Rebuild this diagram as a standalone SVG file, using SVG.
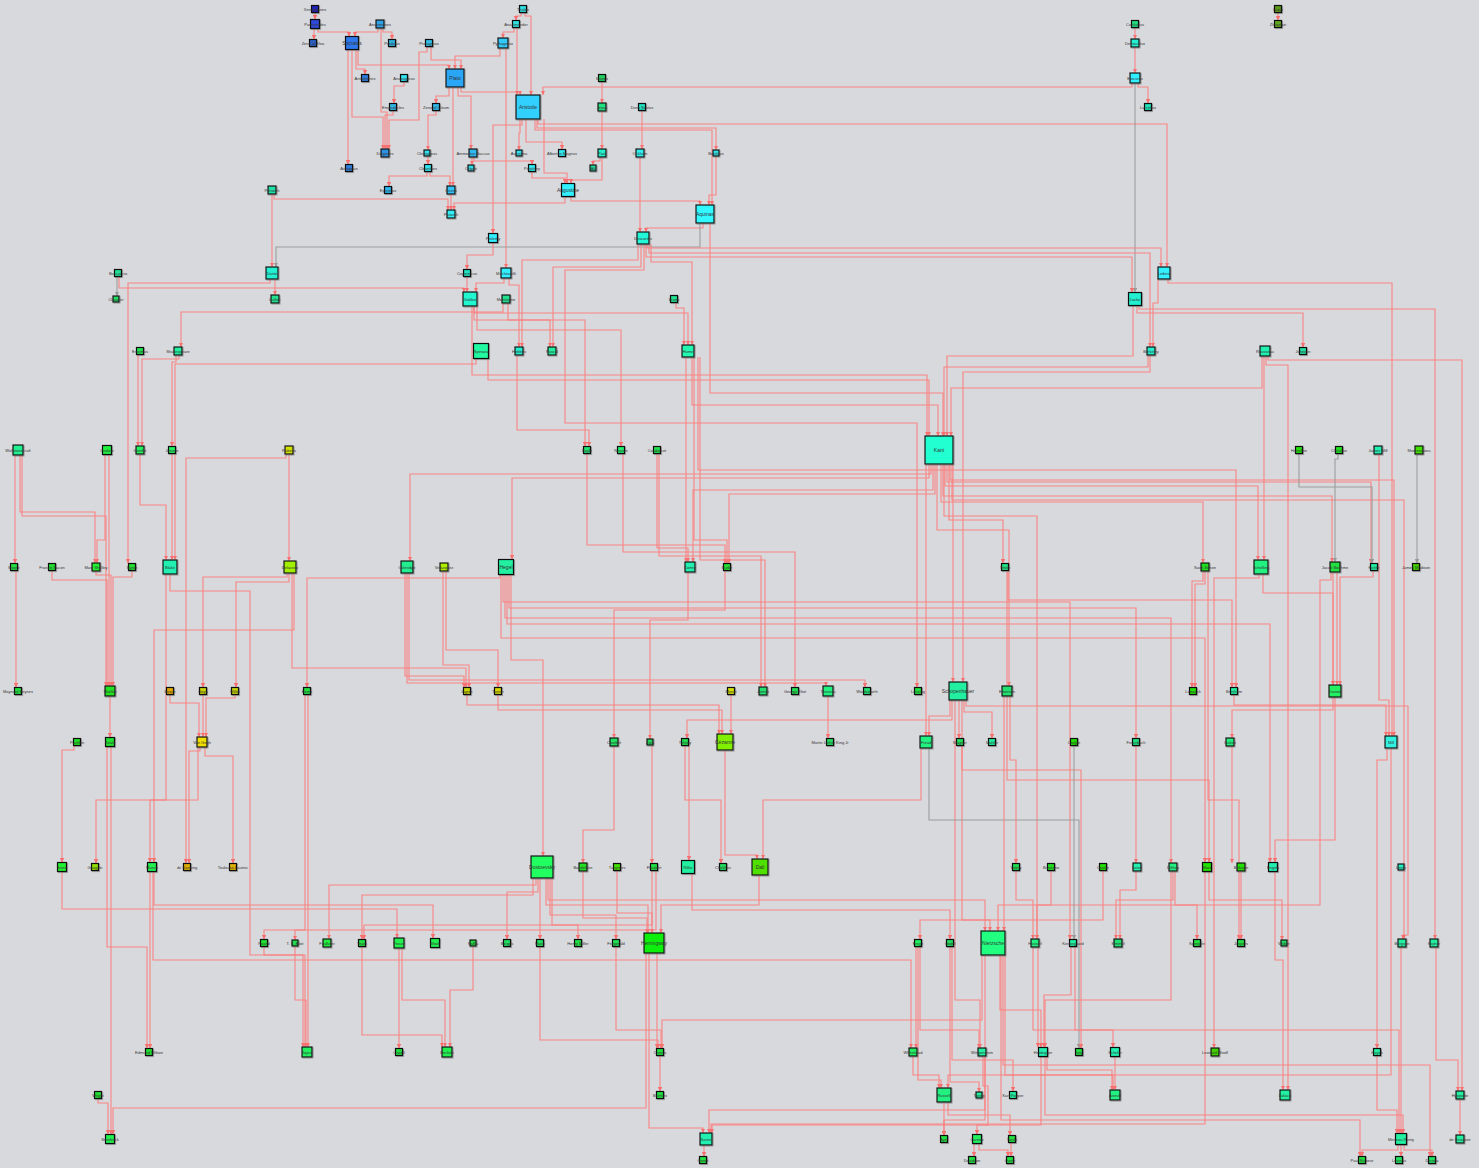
<svg xmlns="http://www.w3.org/2000/svg" width="1479" height="1168" viewBox="0 0 1479 1168">
<defs>
<filter id="sh" x="-30%" y="-30%" width="170%" height="170%"><feDropShadow dx="0.8" dy="0.8" stdDeviation="0.7" flood-color="#777" flood-opacity="0.8"/></filter>
<marker id="a" viewBox="0 0 6 6" refX="6" refY="3" markerWidth="4" markerHeight="4" orient="auto"><path d="M0,0L6,3L0,6z" fill="#f87070"/></marker>
<marker id="ag" viewBox="0 0 6 6" refX="6" refY="3" markerWidth="4" markerHeight="4" orient="auto"><path d="M0,0L6,3L0,6z" fill="#999"/></marker>
<style>
.ed path{fill:none;stroke:#fb7f7f;stroke-width:1.1;stroke-opacity:.95;marker-end:url(#a)}
.ed path.g{stroke:#9a9a9a;marker-end:url(#ag)}
.nd rect{stroke:#111;stroke-width:1.2;filter:url(#sh)}
.nd text{font-family:"Liberation Sans",Arial,sans-serif;font-size:4px;fill:#333;text-anchor:middle;dominant-baseline:central}
.nd.b text{font-size:5px}
</style>
</defs>
<rect width="1479" height="1168" fill="#d8d9dc"/>
<g id="connectors" class="ed">
<path d="M315,12.5V19.5"/><path d="M314,28.5V39.5"/><path d="M318,28.5V32H349V36.5"/><path d="M378,28V32H355V36.5"/><path d="M383,28V32H392V39.5"/><path d="M381,28V112H387V149"/><path d="M356,49.5V69H365V74.5"/><path d="M352,49.5V117H383V149"/><path d="M348,49.5V164.5"/><path d="M358,49.5V65H449V69"/><path d="M431,46.5V60H461V69"/><path d="M427,46.5V52H419V120H389V149"/><path d="M404,81.5V86H394V103.5"/><path d="M393,110.5V115H385V149"/><path d="M449,87V96H436V103.5"/><path d="M436,110.5V115H428V150"/><path d="M428,156V164.5"/><path d="M427,171.5V176H389V186.5"/><path d="M430,171.5V176H450V186"/><path d="M453,87V186"/><path d="M458,87V96H471V149"/><path d="M461,87V92H520V95"/><path d="M500,48V56H455V69"/><path d="M506,48V268"/><path d="M514,27.5V32H503V38"/><path d="M517,27.5V95"/><path d="M521,12.5V16H516V20.5"/><path d="M525,12.5V16H531V95"/><path d="M520,119V133H519V150"/><path d="M526,119V142H562V149.5"/><path d="M474,157V161H532V164.5"/><path d="M472,157V165"/><path d="M532,171.5V178H565V183.5"/><path d="M544,119V173H567V183.5"/><path d="M602,157V180H571V183.5"/><path d="M602,111V149"/><path d="M602,81.5V103"/><path d="M600,157V161H593V165"/><path d="M642,110.5V149"/><path d="M535,119V130H712V205"/><path d="M537,119V128H716V150"/><path d="M716,156V195H709V205"/><path d="M571,196.5V201H700V205"/><path d="M703,223V228H646V232"/><path d="M640,157V232"/><path d="M522,119V125H493V233.5"/><path d="M565,196.5V203H454V210"/><path d="M451,194V210"/><path d="M274,194V199H448V210"/><path d="M1132,83V87H543V95"/><path d="M538,119V124H1167V267"/><path d="M1135,27.5V39"/><path d="M1135,47V73"/><path d="M1138,83V87H1148V103.5"/><path class="g" d="M1135,83V292.5"/><path d="M1278,12.5V20.5"/>
<path d="M275,279V295"/><path d="M272,194V267"/><path class="g" d="M700,223V247H276V267"/><path d="M270,279V283H128V563.5"/><path class="g" d="M117,276.5V296"/><path d="M119,276.5V288H464V292"/><path d="M467,276.5V292"/><path d="M504,278V283H476V292"/><path d="M509,278V285H519V347"/><path d="M493,242.5V255H467V269.5"/><path d="M638,244V260H522V347"/><path d="M641,244V267H553V347"/><path d="M644,244V270H565V423H917V687.5"/><path d="M647,244V248H1161V267"/><path d="M649,244V253H1150V347"/><path d="M646,244V257H1132V292.5"/><path d="M710,223V393H943V436"/><path d="M676,302.5V308H684V345"/><path d="M474,306V313H688V345"/><path d="M651,244V262H692V345"/><path d="M692,357V405H938V436"/><path d="M488,358.5V380H929V436"/><path d="M1133,305.5V356H947V436"/><path d="M1158,279V303H1153V347"/><path d="M1148,355V367H944V436"/><path d="M1150,355V372H963V682"/><path d="M1262,356V388H951V436"/><path d="M1137,305.5V313H1303V347.5"/><path d="M1139,305.5V309H1435V939"/><path d="M1268,356V360H1462V1091"/><path d="M1264,356V560"/><path d="M1266,356V365H1288V1090"/><path d="M1168,279V283H1392V736"/>
<path d="M476,358.5V364H175V560"/><path d="M176,355V362H172V446.5"/><path d="M172,453.5V560"/><path d="M138,354.5V446"/><path d="M179,355V359H142V446"/><path d="M140,454V505H166V560"/><path d="M15,455V563.5"/><path d="M20,455V512H95V563"/><path d="M22,455V516H106V686"/><path d="M109,454.5V686"/><path d="M105,454.5V540H97V563"/><path d="M16,570.5V687.5"/><path d="M52,570.5V580H107V686"/><path d="M96,571V575H111V686"/><path d="M132,570.5V577H113V686"/><path d="M110,696V737.5"/><path d="M111,746.5V1134.5"/><path d="M107,746.5V947H147V1048.5"/><path d="M98,1098.5V1103H108V1134.5"/><path d="M646,953V1108H113V1134.5"/><path d="M170,574V591H250V955H305V1047"/><path d="M289,454V561"/><path d="M286,454V458H186V863.5"/><path d="M292,573V668H466V687.5"/><path d="M500,574.5V578H307V687.5"/><path d="M287,573V577H203V687.5"/><path d="M289,573V582H236V687.5"/><path d="M203,694.5V737"/><path d="M235,694.5V698H206V737"/><path d="M170,694.5V703H199V737"/><path d="M200,747V751H189V863.5"/><path d="M205,747V756H233V863.5"/><path d="M74,745.5V750H62V862.5"/><path d="M62,871.5V909H397V938"/><path d="M150,871.5V1048.5"/><path d="M154,871.5V905H433V938.5"/><path d="M153,871.5V960H911V1048"/><path d="M166,574V800H150V862.5"/><path d="M294,573V630H154V862.5"/><path d="M198,747V800H96V863.5"/><path d="M443,571V665H469V687.5"/><path d="M446,571V650H498V687.5"/><path d="M405,573V676H464V687.5"/><path d="M409,573V680H865V687.5"/><path d="M407,573V683H826V686"/>
<path d="M929,464V478H512V559.5"/><path d="M953,464V682"/><path d="M945,464V486H1258V560"/><path d="M947,464V482H1371V563.5"/><path d="M931,464V474H410V561"/><path d="M949,464V520H1003V563.5"/><path d="M943,464V496H1332V562"/><path d="M941,464V502H1203V563"/><path d="M933,464V490H693V562"/><path d="M935,464V494H729V563.5"/><path d="M937,464V530H1009V686"/><path d="M926,464V736"/><path d="M950,464V480H1394V736"/><path d="M944,464V516H1037V939"/><path d="M952,464V500H1404V939"/>
<path d="M501,574.5V638H1205V862.5"/><path d="M503,574.5V602H1070V939.5"/><path d="M505,574.5V618H1171V863"/><path d="M507,574.5V624H1270V862.5"/><path d="M511,574.5V660H543V856"/><path d="M509,574.5V608H1136V738.5"/>
<path d="M962,700V920H990V931"/><path d="M955,700V1000H980V1048"/><path d="M964,700V712H992V738.5"/><path d="M959,700V738.5"/><path d="M952,700V720H687V738.5"/><path d="M950,700V716H929V736"/><path d="M966,700V706H1408V935H1403V939"/>
<path d="M921,748V800H763V859"/><path class="g" d="M929,748V820H1079V1048.5"/><path d="M962,745.5V770H1081V1048.5"/>
<path d="M1379,454V700H1389V736"/><path d="M1234,694.5V705H1386V736"/><path d="M1387,748V760H1377V1048.5"/><path d="M1391,748V1075H948V1088"/>
<path d="M1000,955V1010H1041V1047.5"/><path d="M985,955V1110H709V1133"/><path d="M982,955V1020H662V1048.5"/><path d="M1003,955V1065H1430V1156.5"/><path d="M1005,955V1075H1113V1090"/><path d="M1001,955V1120H1360V1156.5"/><path d="M1004,696V931"/><path d="M548,878V900H985V931"/><path d="M1331,572V580H1320V905H998V931"/>
<path d="M546,878V905H648V933"/><path d="M540,878V939.5"/><path d="M550,878V915H616V939.5"/><path d="M536,878V885H329V939"/><path d="M538,878V892H507V939.5"/><path d="M552,878V925H578V939.5"/><path d="M533,878V895H362V939.5"/>
<path d="M617,870.5V913H652V933"/><path d="M759,875V905H661V933"/><path d="M583,871V918H647V933"/><path d="M649,953V1128H703V1133"/><path d="M657,953V1048.5"/><path d="M660,1055.5V1091.5"/><path d="M692,873.5V910H950V939.5"/>
<path d="M731,694.5V734"/><path d="M467,694.5V705H719V734"/><path d="M498,694.5V710H722V734"/><path d="M725,750V855H757V859"/>
<path d="M1007,570.5V780H1209V862.5"/><path d="M1008,570.5V600H1232V687.5"/><path d="M1203,571V581H1192V687.5"/><path d="M1205,571V584H1195V687.5"/><path d="M1208,571V800H1239V939.5"/><path d="M1263,574V593H1333V685"/><path d="M1259,574V578H1214V1048"/><path d="M1333,572V685"/><path d="M1337,572V685"/><path d="M1373,570.5V577H1340V685"/><path class="g" d="M1417,454V563.5"/><path class="g" d="M1338,453.5V459H1335V562"/><path class="g" d="M1299,453.5V487H1372V563.5"/><path d="M1333,697V710H1232V738"/><path d="M1335,697V840H1275V862.5"/><path d="M1136,745.5V863"/><path d="M1136,871V890H1120V939"/><path d="M1173,871V900H1116V939"/><path d="M1171,871V1000H1045V1047.5"/><path d="M1175,871V905H1197V939.5"/><path d="M1051,870.5V905H1037V939"/><path d="M1016,870.5V900H1033V939"/><path d="M1038,947V1047.5"/><path d="M1033,947V1030H1399V1133.5"/><path d="M1103,870.5V920H920V939.5"/><path d="M918,946.5V1080H941V1088"/><path d="M920,946.5V1030H979V1048"/><path d="M916,946.5V1048"/><path d="M950,946.5V1082H979V1092"/><path d="M913,1056V1075H939V1088"/><path d="M985,1056V1120H944V1135.5"/><path d="M983,1056V1086H988V1125H977V1134.5"/><path d="M944,1102V1135.5"/><path d="M948,1102V1115H1010V1135.5"/><path d="M979,1143.5V1150H1008V1156.5"/><path d="M974,1143.5V1156.5"/><path d="M1011,1142.5V1156.5"/><path d="M1047,1056.5V1070H1112V1090"/><path d="M1115,1056.5V1090"/><path d="M1041,1056.5V1125H712V1133"/><path d="M1045,1056.5V1115H1403V1133.5"/><path d="M1071,946.5V995H1044V1047.5"/><path d="M1075,946.5V1030H1113V1047.5"/><path d="M1398,1144.5V1150H1362V1156.5"/><path d="M1401,1144.5V1156.5"/><path d="M1404,1144.5V1150H1432V1156.5"/><path d="M1460,1099V1135"/><path d="M704,1145V1156.5"/><path d="M1401,947V1133.5"/><path d="M1436,947V1060H1458V1091"/><path d="M1377,1055.5V1110H1397V1133.5"/><path d="M1241,871V939.5"/><path d="M1209,871.5V900H1282V940"/><path d="M1205,871.5V1124H711V1133"/><path d="M1275,871.5V960H1283V1090"/><path d="M952,946.5V1060H1013V1091.5"/><path class="g" d="M1074,745.5V939.5"/><path d="M1232,746V863"/><path d="M1010,696V760H1016V863.5"/>
<path d="M305,694.5V930H264V939.5"/><path d="M308,694.5V1047"/><path d="M264,946.5V955H303V1047"/><path d="M295,946V1000H306V1047"/><path d="M656,870.5V930H295V940"/><path d="M652,870.5V925H364V939.5"/><path d="M399,948V1048.5"/><path d="M402,948V1000H445V1047"/><path d="M362,946.5V1035H442V1047"/><path d="M473,946V990H450V1047"/><path d="M540,946.5V1040H658V1048.5"/><path d="M616,946.5V1030H661V1048.5"/>
<path d="M474,306V320H585V446.5"/><path d="M477,306V330H621V446.5"/><path d="M472,306V375H927V436"/><path d="M503,303V312H181V347"/><path d="M508,303V320H550V347"/><path d="M517,355V430H589V446.5"/><path d="M686,357V562"/><path d="M694,357V540H727V563.5"/><path d="M698,357V470H1236V687.5"/><path d="M587,453.5V545H725V563.5"/><path d="M657,453.5V548H688V562"/><path d="M659,453.5V556H761V687"/><path d="M700,357V560H765V687"/><path d="M623,453.5V552H795V687.5"/><path d="M828,696V738.5"/><path d="M688,572V620H650V739"/><path d="M725,570.5V610H614V738"/><path d="M614,746V830H583V863"/><path d="M652,745V863.5"/><path d="M685,745.5V800H721V863.5"/><path d="M689,745.5V860.5"/>
</g>
<g id="nodes">
<g id="n-xenophanes" class="nd"><rect x="311.5" y="5.5" width="7" height="7" fill="#2323b8"/><text x="315" y="9">Xenophanes</text></g>
<g id="n-parmenides" class="nd"><rect x="310.5" y="19.5" width="9" height="9" fill="#2d48d8"/><text x="315" y="24">Parmenides</text></g>
<g id="n-zeno" class="nd"><rect x="309.5" y="39.5" width="7" height="7" fill="#2a62c8"/><text x="313" y="43">Zeno of Elea</text></g>
<g id="n-socrates" class="nd b"><rect x="345.5" y="36.5" width="13" height="13" fill="#2f78ee"/><text x="352" y="43">Socrates</text></g>
<g id="n-anaximenes" class="nd"><rect x="376" y="20" width="8" height="8" fill="#30a2e6"/><text x="380" y="24">Anaximenes</text></g>
<g id="n-prodicus" class="nd"><rect x="388.5" y="39.5" width="7" height="7" fill="#30b4e0"/><text x="392" y="43">Prodicus</text></g>
<g id="n-protagoras" class="nd"><rect x="425.5" y="39.5" width="7" height="7" fill="#34bfe8"/><text x="429" y="43">Protagoras</text></g>
<g id="n-antisthenes" class="nd"><rect x="361.5" y="74.5" width="7" height="7" fill="#2f7ee0"/><text x="365" y="78">Antisthenes</text></g>
<g id="n-anaxagoras" class="nd"><rect x="400.5" y="74.5" width="7" height="7" fill="#30e0ee"/><text x="404" y="78">Anaxagoras</text></g>
<g id="n-plato" class="nd b"><rect x="446" y="69" width="18" height="18" fill="#2aa6f6"/><text x="455" y="78">Plato</text></g>
<g id="n-empedocles" class="nd"><rect x="389.5" y="103.5" width="7" height="7" fill="#30b8e8"/><text x="393" y="107">Empedocles</text></g>
<g id="n-zenocitium" class="nd"><rect x="432.5" y="103.5" width="7" height="7" fill="#30b8e8"/><text x="436" y="107">Zeno of Citium</text></g>
<g id="n-diogenes" class="nd"><rect x="381" y="149" width="8" height="8" fill="#2f90e0"/><text x="385" y="153">Diogenes</text></g>
<g id="n-chrysippus" class="nd"><rect x="424" y="150" width="6" height="6" fill="#30e0f0"/><text x="427" y="153">Chrysippus</text></g>
<g id="n-ammonius" class="nd"><rect x="469" y="149" width="8" height="8" fill="#30b8f0"/><text x="473" y="153">Ammonius Saccas</text></g>
<g id="n-aristippus" class="nd"><rect x="345.5" y="164.5" width="7" height="7" fill="#2f80e0"/><text x="349" y="168">Aristippus</text></g>
<g id="n-cleanthes" class="nd"><rect x="424.5" y="164.5" width="7" height="7" fill="#30e4f0"/><text x="428" y="168">Cleanthes</text></g>
<g id="n-origen" class="nd"><rect x="468" y="165" width="6" height="6" fill="#30d8e8"/><text x="471" y="168">Origen</text></g>
<g id="n-epictetus" class="nd"><rect x="384.5" y="186.5" width="7" height="7" fill="#30b8f0"/><text x="388" y="190">Epictetus</text></g>
<g id="n-cicero" class="nd"><rect x="447" y="186" width="8" height="8" fill="#30c4f8"/><text x="451" y="190">Cicero</text></g>
<g id="n-plutarch" class="nd"><rect x="447" y="210" width="8" height="8" fill="#30eef8"/><text x="451" y="214">Plutarch</text></g>
<g id="n-thales" class="nd"><rect x="519.5" y="5.5" width="7" height="7" fill="#30e0e0"/><text x="523" y="9">Thales</text></g>
<g id="n-anaximander" class="nd"><rect x="512.5" y="20.5" width="7" height="7" fill="#30e0e0"/><text x="516" y="24">Anaximander</text></g>
<g id="n-pythagoras" class="nd"><rect x="498" y="38" width="10" height="10" fill="#30c8f8"/><text x="503" y="43">Pythagoras</text></g>
<g id="n-aristotle" class="nd b"><rect x="516" y="95" width="24" height="24" fill="#30d0ff"/><text x="528" y="107">Aristotle</text></g>
<g id="n-avicenna" class="nd"><rect x="516" y="150" width="6" height="6" fill="#30e0f0"/><text x="519" y="153">Avicenna</text></g>
<g id="n-albertus" class="nd"><rect x="558.5" y="149.5" width="7" height="7" fill="#30e8f0"/><text x="562" y="153">Albertus Magnus</text></g>
<g id="n-porphyry" class="nd"><rect x="528.5" y="164.5" width="7" height="7" fill="#30e8f0"/><text x="532" y="168">Porphyry</text></g>
<g id="n-moses" class="nd"><rect x="598.5" y="74.5" width="7" height="7" fill="#20d060"/><text x="602" y="78">Moses</text></g>
<g id="n-jesus" class="nd"><rect x="598" y="103" width="8" height="8" fill="#20e080"/><text x="602" y="107">Jesus</text></g>
<g id="n-paul" class="nd"><rect x="598" y="149" width="8" height="8" fill="#20f0c8"/><text x="602" y="153">Paul</text></g>
<g id="n-ali" class="nd"><rect x="590" y="165" width="6" height="6" fill="#20e0a0"/><text x="593" y="168">Ali</text></g>
<g id="n-dunscotus" class="nd"><rect x="638.5" y="103.5" width="7" height="7" fill="#20e0c0"/><text x="642" y="107">Duns Scotus</text></g>
<g id="n-ockham" class="nd"><rect x="636" y="149" width="8" height="8" fill="#30f0f0"/><text x="640" y="153">Ockham</text></g>
<g id="n-boethius" class="nd"><rect x="713" y="150" width="6" height="6" fill="#30e8f0"/><text x="716" y="153">Boethius</text></g>
<g id="n-augustine" class="nd b"><rect x="561.5" y="183.5" width="13" height="13" fill="#30f0ff"/><text x="568" y="190">Augustine</text></g>
<g id="n-aquinas" class="nd b"><rect x="696" y="205" width="18" height="18" fill="#30f8ff"/><text x="705" y="214">Aquinas</text></g>
<g id="n-petrarch" class="nd"><rect x="268" y="186" width="8" height="8" fill="#20e0a8"/><text x="272" y="190">Petrarch</text></g>
<g id="n-descartes" class="nd"><rect x="637" y="232" width="12" height="12" fill="#20f8d8"/><text x="643" y="238">Descartes</text></g>
<g id="n-ptolemy" class="nd"><rect x="488.5" y="233.5" width="9" height="9" fill="#30f0ff"/><text x="493" y="238">Ptolemy</text></g>
<g id="n-confucius" class="nd"><rect x="1131.5" y="20.5" width="7" height="7" fill="#20e080"/><text x="1135" y="24">Confucius</text></g>
<g id="n-democritus" class="nd"><rect x="1131" y="39" width="8" height="8" fill="#20f0d0"/><text x="1135" y="43">Democritus</text></g>
<g id="n-epicurus" class="nd"><rect x="1130" y="73" width="10" height="10" fill="#30f0ff"/><text x="1135" y="78">Epicurus</text></g>
<g id="n-lucretius" class="nd"><rect x="1144.5" y="103.5" width="7" height="7" fill="#20e0b8"/><text x="1148" y="107">Lucretius</text></g>
<g id="n-laozi" class="nd"><rect x="1274.5" y="5.5" width="7" height="7" fill="#5a9a18"/><text x="1278" y="9">Laozi</text></g>
<g id="n-zhuangzi" class="nd"><rect x="1274.5" y="20.5" width="7" height="7" fill="#60a820"/><text x="1278" y="24">Zhuangzi</text></g>
<g id="n-boccaccio" class="nd"><rect x="114.5" y="269.5" width="7" height="7" fill="#20e098"/><text x="118" y="273">Boccaccio</text></g>
<g id="n-chaucer" class="nd"><rect x="113" y="296" width="6" height="6" fill="#20e060"/><text x="116" y="299">Chaucer</text></g>
<g id="n-dante" class="nd"><rect x="266" y="267" width="12" height="12" fill="#20f0d0"/><text x="272" y="273">Dante</text></g>
<g id="n-luther" class="nd"><rect x="271" y="295" width="8" height="8" fill="#20e090"/><text x="275" y="299">Luther</text></g>
<g id="n-copernicus" class="nd"><rect x="463.5" y="269.5" width="7" height="7" fill="#20e0c0"/><text x="467" y="273">Copernicus</text></g>
<g id="n-machiavelli" class="nd"><rect x="501" y="268" width="10" height="10" fill="#30f0ff"/><text x="506" y="273">Machiavelli</text></g>
<g id="n-galileo" class="nd"><rect x="463" y="292" width="14" height="14" fill="#20f8d0"/><text x="470" y="299">Galileo</text></g>
<g id="n-montaigne" class="nd"><rect x="502" y="295" width="8" height="8" fill="#20e090"/><text x="506" y="299">Montaigne</text></g>
<g id="n-bruno" class="nd"><rect x="670.5" y="295.5" width="7" height="7" fill="#20e090"/><text x="674" y="299">Bruno</text></g>
<g id="n-leibniz" class="nd"><rect x="1158" y="267" width="12" height="12" fill="#30f0ff"/><text x="1164" y="273">Leibniz</text></g>
<g id="n-locke" class="nd"><rect x="1128.5" y="292.5" width="13" height="13" fill="#20f0d0"/><text x="1135" y="299">Locke</text></g>
<g id="n-erasmus" class="nd"><rect x="136.5" y="347.5" width="7" height="7" fill="#20e050"/><text x="140" y="351">Erasmus</text></g>
<g id="n-shakespeare" class="nd"><rect x="174" y="347" width="8" height="8" fill="#20f0a0"/><text x="178" y="351">Shakespeare</text></g>
<g id="n-spinoza" class="nd"><rect x="473.5" y="343.5" width="15" height="15" fill="#20f8a0"/><text x="481" y="351">Spinoza</text></g>
<g id="n-hobbes" class="nd"><rect x="515" y="347" width="8" height="8" fill="#20f0d0"/><text x="519" y="351">Hobbes</text></g>
<g id="n-pascal" class="nd"><rect x="548" y="347" width="8" height="8" fill="#20f0a0"/><text x="552" y="351">Pascal</text></g>
<g id="n-hume" class="nd"><rect x="682" y="345" width="12" height="12" fill="#20f8b0"/><text x="688" y="351">Hume</text></g>
<g id="n-berkeley" class="nd"><rect x="1147" y="347" width="8" height="8" fill="#20f0d0"/><text x="1151" y="351">Berkeley</text></g>
<g id="n-rousseau" class="nd"><rect x="1260" y="346" width="10" height="10" fill="#20f0b0"/><text x="1265" y="351">Rousseau</text></g>
<g id="n-johnson" class="nd"><rect x="1299.5" y="347.5" width="7" height="7" fill="#20e0a0"/><text x="1303" y="351">Johnson</text></g>
<g id="n-wollstonecraft" class="nd"><rect x="13" y="445" width="10" height="10" fill="#20f090"/><text x="18" y="450">Wollstonecraft</text></g>
<g id="n-godwin" class="nd"><rect x="102.5" y="445.5" width="9" height="9" fill="#20f040"/><text x="107" y="450">Godwin</text></g>
<g id="n-goethe" class="nd"><rect x="136" y="446" width="8" height="8" fill="#20f060"/><text x="140" y="450">Goethe</text></g>
<g id="n-jonson" class="nd"><rect x="168.5" y="446.5" width="7" height="7" fill="#20f060"/><text x="172" y="450">Jonson</text></g>
<g id="n-rubens" class="nd"><rect x="285" y="446" width="8" height="8" fill="#d4e000"/><text x="289" y="450">Rubens</text></g>
<g id="n-bayle" class="nd"><rect x="583.5" y="446.5" width="7" height="7" fill="#20e070"/><text x="587" y="450">Bayle</text></g>
<g id="n-newton" class="nd"><rect x="617.5" y="446.5" width="7" height="7" fill="#20f070"/><text x="621" y="450">Newton</text></g>
<g id="n-condorcet" class="nd"><rect x="653.5" y="446.5" width="7" height="7" fill="#20e050"/><text x="657" y="450">Condorcet</text></g>
<g id="n-kant" class="nd b"><rect x="925" y="436" width="28" height="28" fill="#20ffd0"/><text x="939" y="450">Kant</text></g>
<g id="n-hamilton" class="nd"><rect x="1295.5" y="446.5" width="7" height="7" fill="#20e010"/><text x="1299" y="450">Hamilton</text></g>
<g id="n-chopin" class="nd"><rect x="1335.5" y="446.5" width="7" height="7" fill="#20e020"/><text x="1339" y="450">Christian</text></g>
<g id="n-jamesmill" class="nd"><rect x="1374" y="446" width="8" height="8" fill="#20f0b0"/><text x="1378" y="450">James Mill</text></g>
<g id="n-montesquieu" class="nd"><rect x="1415" y="446" width="8" height="8" fill="#40e000"/><text x="1419" y="450">Montesquieu</text></g>
<g id="n-moore" class="nd"><rect x="10.5" y="563.5" width="7" height="7" fill="#20e040"/><text x="14" y="567">Moore</text></g>
<g id="n-fbacon" class="nd"><rect x="48.5" y="563.5" width="7" height="7" fill="#20e030"/><text x="52" y="567">Francis Bacon</text></g>
<g id="n-mshelley" class="nd"><rect x="92" y="563" width="8" height="8" fill="#20f030"/><text x="96" y="567">Mary Shelley</text></g>
<g id="n-byron" class="nd"><rect x="128.5" y="563.5" width="7" height="7" fill="#20e030"/><text x="132" y="567">Byron</text></g>
<g id="n-blake" class="nd"><rect x="163" y="560" width="14" height="14" fill="#20f0b0"/><text x="170" y="567">Blake</text></g>
<g id="n-delacroix" class="nd"><rect x="284" y="561" width="12" height="12" fill="#a0f000"/><text x="290" y="567">Delacroix</text></g>
<g id="n-coleridge" class="nd"><rect x="401" y="561" width="12" height="12" fill="#20f090"/><text x="407" y="567">Coleridge</text></g>
<g id="n-velazquez" class="nd"><rect x="440" y="563" width="8" height="8" fill="#b0f000"/><text x="444" y="567">Velázquez</text></g>
<g id="n-hegel" class="nd b"><rect x="498.5" y="559.5" width="15" height="15" fill="#20f0a0"/><text x="506" y="567">Hegel</text></g>
<g id="n-comte" class="nd"><rect x="685" y="562" width="10" height="10" fill="#20f0b0"/><text x="690" y="567">Comte</text></g>
<g id="n-burke" class="nd"><rect x="723.5" y="563.5" width="7" height="7" fill="#20e030"/><text x="727" y="567">Burke</text></g>
<g id="n-smith" class="nd"><rect x="1001.5" y="563.5" width="7" height="7" fill="#20e080"/><text x="1005" y="567">Smith</text></g>
<g id="n-saintsimon" class="nd"><rect x="1201" y="563" width="8" height="8" fill="#20e020"/><text x="1205" y="567">Saint-Simon</text></g>
<g id="n-schelling" class="nd"><rect x="1254" y="560" width="14" height="14" fill="#20f080"/><text x="1261" y="567">Schelling</text></g>
<g id="n-boehme" class="nd"><rect x="1330" y="562" width="10" height="10" fill="#20e040"/><text x="1335" y="567">Jacob Boehme</text></g>
<g id="n-fichte" class="nd"><rect x="1370.5" y="563.5" width="7" height="7" fill="#20f0a0"/><text x="1374" y="567">Fichte</text></g>
<g id="n-madison" class="nd"><rect x="1412.5" y="563.5" width="7" height="7" fill="#40d000"/><text x="1416" y="567">James Madison</text></g>
<g id="n-keynes" class="nd"><rect x="14.5" y="687.5" width="7" height="7" fill="#20e040"/><text x="18" y="691">Maynard Keynes</text></g>
<g id="n-shelley" class="nd"><rect x="105" y="686" width="10" height="10" fill="#20e020"/><text x="110" y="691">Shelley</text></g>
<g id="n-bosch" class="nd"><rect x="166.5" y="687.5" width="7" height="7" fill="#e0a800"/><text x="170" y="691">Bosch</text></g>
<g id="n-goya" class="nd"><rect x="199.5" y="687.5" width="7" height="7" fill="#c8d400"/><text x="203" y="691">Goya</text></g>
<g id="n-millet" class="nd"><rect x="231.5" y="687.5" width="7" height="7" fill="#c8d400"/><text x="235" y="691">Millet</text></g>
<g id="n-heine" class="nd"><rect x="303.5" y="687.5" width="7" height="7" fill="#20e040"/><text x="307" y="691">Heine</text></g>
<g id="n-ingres" class="nd"><rect x="463.5" y="687.5" width="7" height="7" fill="#c8d400"/><text x="467" y="691">Ingres</text></g>
<g id="n-turner" class="nd"><rect x="494.5" y="687.5" width="7" height="7" fill="#d4d400"/><text x="498" y="691">Turner</text></g>
<g id="n-monet" class="nd"><rect x="727.5" y="687.5" width="7" height="7" fill="#d4e000"/><text x="731" y="691">Monet</text></g>
<g id="n-james" class="nd"><rect x="759" y="687" width="8" height="8" fill="#20e070"/><text x="763" y="691">James</text></g>
<g id="n-eliot" class="nd"><rect x="791.5" y="687.5" width="7" height="7" fill="#20e050"/><text x="795" y="691">George Eliot</text></g>
<g id="n-thoreau" class="nd"><rect x="823" y="686" width="10" height="10" fill="#20f080"/><text x="828" y="691">Thoreau</text></g>
<g id="n-wordsworth" class="nd"><rect x="863.5" y="687.5" width="7" height="7" fill="#20e070"/><text x="867" y="691">Wordsworth</text></g>
<g id="n-lessing" class="nd"><rect x="914.5" y="687.5" width="7" height="7" fill="#20e040"/><text x="918" y="691">Lessing</text></g>
<g id="n-schopenhauer" class="nd b"><rect x="949" y="682" width="18" height="18" fill="#20f0a0"/><text x="958" y="691">Schopenhauer</text></g>
<g id="n-emerson" class="nd"><rect x="1002" y="686" width="10" height="10" fill="#20e070"/><text x="1007" y="691">Emerson</text></g>
<g id="n-lamarck" class="nd"><rect x="1189.5" y="687.5" width="7" height="7" fill="#20e000"/><text x="1193" y="691">Lamarck</text></g>
<g id="n-bentham" class="nd"><rect x="1230.5" y="687.5" width="7" height="7" fill="#20f0a0"/><text x="1234" y="691">Bentham</text></g>
<g id="n-darwin" class="nd"><rect x="1329" y="685" width="12" height="12" fill="#20f060"/><text x="1335" y="691">Darwin</text></g>
<g id="n-pushkin" class="nd"><rect x="73.5" y="738.5" width="7" height="7" fill="#20e020"/><text x="77" y="742">Pushkin</text></g>
<g id="n-keats" class="nd"><rect x="105.5" y="737.5" width="9" height="9" fill="#20e030"/><text x="110" y="742">Keats</text></g>
<g id="n-vangogh" class="nd"><rect x="197" y="737" width="10" height="10" fill="#f0e000"/><text x="202" y="742">Van Gogh</text></g>
<g id="n-courbet" class="nd"><rect x="610" y="738" width="8" height="8" fill="#20e060"/><text x="614" y="742">Courbet</text></g>
<g id="n-zola" class="nd"><rect x="647" y="739" width="6" height="6" fill="#20e060"/><text x="650" y="742">Zola</text></g>
<g id="n-tolstoy" class="nd"><rect x="681.5" y="738.5" width="7" height="7" fill="#20e050"/><text x="685" y="742">Tolstoy</text></g>
<g id="n-cezanne" class="nd b"><rect x="717" y="734" width="16" height="16" fill="#80f000"/><text x="725" y="742">Cézanne</text></g>
<g id="n-mlk" class="nd"><rect x="826.5" y="738.5" width="7" height="7" fill="#20e060"/><text x="830" y="742">Martin Luther King Jr</text></g>
<g id="n-freud" class="nd"><rect x="920" y="736" width="12" height="12" fill="#20f080"/><text x="926" y="742">Freud</text></g>
<g id="n-wagner" class="nd"><rect x="956.5" y="738.5" width="7" height="7" fill="#20e060"/><text x="960" y="742">Wagner</text></g>
<g id="n-mahler" class="nd"><rect x="988.5" y="738.5" width="7" height="7" fill="#20f0a0"/><text x="992" y="742">Mahler</text></g>
<g id="n-carlyle" class="nd"><rect x="1070.5" y="738.5" width="7" height="7" fill="#20e000"/><text x="1074" y="742">Carlyle</text></g>
<g id="n-feuerbach" class="nd"><rect x="1132.5" y="738.5" width="7" height="7" fill="#20e080"/><text x="1136" y="742">Feuerbach</text></g>
<g id="n-galton" class="nd"><rect x="1226" y="738" width="8" height="8" fill="#20f080"/><text x="1230" y="742">Galton</text></g>
<g id="n-mill" class="nd"><rect x="1385" y="736" width="12" height="12" fill="#30f0e0"/><text x="1391" y="742">Mill</text></g>
<g id="n-ibsen" class="nd"><rect x="57.5" y="862.5" width="9" height="9" fill="#20f030"/><text x="62" y="867">Ibsen</text></g>
<g id="n-gauguin" class="nd"><rect x="91.5" y="863.5" width="7" height="7" fill="#90e000"/><text x="95" y="867">Gauguin</text></g>
<g id="n-munch" class="nd"><rect x="147.5" y="862.5" width="9" height="9" fill="#20f050"/><text x="152" y="867">Munch</text></g>
<g id="n-dekooning" class="nd"><rect x="183.5" y="863.5" width="7" height="7" fill="#e0b000"/><text x="187" y="867">de Kooning</text></g>
<g id="n-toulouse" class="nd"><rect x="229.5" y="863.5" width="7" height="7" fill="#e0b000"/><text x="233" y="867">Toulouse-Lautrec</text></g>
<g id="n-dostoevsky" class="nd b"><rect x="531" y="856" width="22" height="22" fill="#20ff60"/><text x="542" y="867">Dostoevsky</text></g>
<g id="n-baudelaire" class="nd"><rect x="579" y="863" width="8" height="8" fill="#20e020"/><text x="583" y="867">Baudelaire</text></g>
<g id="n-turgenev" class="nd"><rect x="613.5" y="863.5" width="7" height="7" fill="#40e000"/><text x="617" y="867">Turgenev</text></g>
<g id="n-flaubert" class="nd"><rect x="650.5" y="863.5" width="7" height="7" fill="#20e040"/><text x="654" y="867">Flaubert</text></g>
<g id="n-rilke" class="nd"><rect x="681.5" y="860.5" width="13" height="13" fill="#20f0a0"/><text x="688" y="867">Rilke</text></g>
<g id="n-chekhov" class="nd"><rect x="719.5" y="863.5" width="7" height="7" fill="#20e060"/><text x="723" y="867">Chekhov</text></g>
<g id="n-dali" class="nd b"><rect x="752" y="859" width="16" height="16" fill="#50e000"/><text x="760" y="867">Dali</text></g>
<g id="n-valery" class="nd"><rect x="1012.5" y="863.5" width="7" height="7" fill="#20e050"/><text x="1016" y="867">Valéry</text></g>
<g id="n-brentano" class="nd"><rect x="1047.5" y="863.5" width="7" height="7" fill="#20e020"/><text x="1051" y="867">Brentano</text></g>
<g id="n-cantor" class="nd"><rect x="1099.5" y="863.5" width="7" height="7" fill="#20e000"/><text x="1103" y="867">Cantor</text></g>
<g id="n-lotze" class="nd"><rect x="1133" y="863" width="8" height="8" fill="#20f0b0"/><text x="1137" y="867">Lotze</text></g>
<g id="n-dilthey" class="nd"><rect x="1169" y="863" width="8" height="8" fill="#20f080"/><text x="1173" y="867">Dilthey</text></g>
<g id="n-marx" class="nd"><rect x="1202.5" y="862.5" width="9" height="9" fill="#20e000"/><text x="1207" y="867">Marx</text></g>
<g id="n-bakunin" class="nd"><rect x="1237" y="863" width="8" height="8" fill="#20e000"/><text x="1241" y="867">Bakunin</text></g>
<g id="n-engels" class="nd"><rect x="1268.5" y="862.5" width="9" height="9" fill="#20f0b0"/><text x="1273" y="867">Engels</text></g>
<g id="n-lenin" class="nd"><rect x="1398" y="864" width="6" height="6" fill="#20f0c0"/><text x="1401" y="867">Lenin</text></g>
<g id="n-pound" class="nd"><rect x="260.5" y="939.5" width="7" height="7" fill="#20e030"/><text x="264" y="943">Pound</text></g>
<g id="n-tseliot" class="nd"><rect x="292" y="940" width="6" height="6" fill="#20e050"/><text x="295" y="943">T. S. Eliot</text></g>
<g id="n-faulkner" class="nd"><rect x="323" y="939" width="8" height="8" fill="#20f040"/><text x="327" y="943">Faulkner</text></g>
<g id="n-yeats" class="nd"><rect x="358.5" y="939.5" width="7" height="7" fill="#20e040"/><text x="362" y="943">Yeats</text></g>
<g id="n-proust" class="nd"><rect x="394" y="938" width="10" height="10" fill="#20f050"/><text x="399" y="943">Proust</text></g>
<g id="n-woolf" class="nd"><rect x="430.5" y="938.5" width="9" height="9" fill="#20f050"/><text x="435" y="943">Woolf</text></g>
<g id="n-kafka" class="nd"><rect x="470" y="940" width="6" height="6" fill="#20e040"/><text x="473" y="943">Kafka</text></g>
<g id="n-borges" class="nd"><rect x="503.5" y="939.5" width="7" height="7" fill="#20e060"/><text x="507" y="943">Borges</text></g>
<g id="n-mann" class="nd"><rect x="536.5" y="939.5" width="7" height="7" fill="#20e060"/><text x="540" y="943">Mann</text></g>
<g id="n-hmiller" class="nd"><rect x="574.5" y="939.5" width="7" height="7" fill="#20e040"/><text x="578" y="943">Henry Miller</text></g>
<g id="n-fitzgerald" class="nd"><rect x="612.5" y="939.5" width="7" height="7" fill="#20e050"/><text x="616" y="943">Fitzgerald</text></g>
<g id="n-hemingway" class="nd b"><rect x="644" y="933" width="20" height="20" fill="#10f010"/><text x="654" y="943">Hemingway</text></g>
<g id="n-frege" class="nd"><rect x="914.5" y="939.5" width="7" height="7" fill="#20f060"/><text x="918" y="943">Frege</text></g>
<g id="n-godel" class="nd"><rect x="946.5" y="939.5" width="7" height="7" fill="#20e060"/><text x="950" y="943">Gödel</text></g>
<g id="n-nietzsche" class="nd b"><rect x="981" y="931" width="24" height="24" fill="#20ff80"/><text x="993" y="943">Nietzsche</text></g>
<g id="n-husserl" class="nd"><rect x="1031" y="939" width="8" height="8" fill="#20f080"/><text x="1035" y="943">Husserl</text></g>
<g id="n-kierkegaard" class="nd"><rect x="1069.5" y="939.5" width="7" height="7" fill="#20f0a0"/><text x="1073" y="943">Kierkegaard</text></g>
<g id="n-simmel" class="nd"><rect x="1114" y="939" width="8" height="8" fill="#20e070"/><text x="1118" y="943">Simmel</text></g>
<g id="n-spengler" class="nd"><rect x="1193.5" y="939.5" width="7" height="7" fill="#20e040"/><text x="1197" y="943">Spengler</text></g>
<g id="n-jaspers" class="nd"><rect x="1237.5" y="939.5" width="7" height="7" fill="#20e040"/><text x="1241" y="943">Jaspers</text></g>
<g id="n-weber" class="nd"><rect x="1281" y="940" width="6" height="6" fill="#20e060"/><text x="1284" y="943">Weber</text></g>
<g id="n-bergson" class="nd"><rect x="1398" y="939" width="8" height="8" fill="#20f0a0"/><text x="1402" y="943">Bergson</text></g>
<g id="n-kojeve" class="nd"><rect x="1430" y="939" width="8" height="8" fill="#20f0a0"/><text x="1434" y="943">Kojève</text></g>
<g id="n-ewilson" class="nd"><rect x="145.5" y="1048.5" width="7" height="7" fill="#20e030"/><text x="149" y="1052">Edmund Wilson</text></g>
<g id="n-joyce" class="nd"><rect x="302" y="1047" width="10" height="10" fill="#20f060"/><text x="307" y="1052">Joyce</text></g>
<g id="n-orwell" class="nd"><rect x="395.5" y="1048.5" width="7" height="7" fill="#20e040"/><text x="399" y="1052">Orwell</text></g>
<g id="n-beckett" class="nd"><rect x="442" y="1047" width="10" height="10" fill="#20f050"/><text x="447" y="1052">Beckett</text></g>
<g id="n-camus" class="nd"><rect x="656.5" y="1048.5" width="7" height="7" fill="#20e040"/><text x="660" y="1052">Camus</text></g>
<g id="n-whitehead" class="nd"><rect x="909" y="1048" width="8" height="8" fill="#20f060"/><text x="913" y="1052">Whitehead</text></g>
<g id="n-wittgenstein" class="nd"><rect x="978" y="1048" width="8" height="8" fill="#20f0a0"/><text x="982" y="1052">Wittgenstein</text></g>
<g id="n-heidegger" class="nd"><rect x="1038.5" y="1047.5" width="9" height="9" fill="#20f0b0"/><text x="1043" y="1052">Heidegger</text></g>
<g id="n-jung" class="nd"><rect x="1075.5" y="1048.5" width="7" height="7" fill="#20e040"/><text x="1079" y="1052">Jung</text></g>
<g id="n-scheler" class="nd"><rect x="1110.5" y="1047.5" width="9" height="9" fill="#20f0b0"/><text x="1115" y="1052">Scheler</text></g>
<g id="n-lwoolf" class="nd"><rect x="1211" y="1048" width="8" height="8" fill="#40d000"/><text x="1215" y="1052">Leonard Woolf</text></g>
<g id="n-hayek" class="nd"><rect x="1373.5" y="1048.5" width="7" height="7" fill="#20f0a0"/><text x="1377" y="1052">Hayek</text></g>
<g id="n-wright" class="nd"><rect x="94.5" y="1091.5" width="7" height="7" fill="#20e030"/><text x="98" y="1095">Wright</text></g>
<g id="n-barthes" class="nd"><rect x="656.5" y="1091.5" width="7" height="7" fill="#20e040"/><text x="660" y="1095">Barthes</text></g>
<g id="n-russell" class="nd"><rect x="937" y="1088" width="14" height="14" fill="#20f080"/><text x="944" y="1095">Russell</text></g>
<g id="n-turing" class="nd"><rect x="976" y="1092" width="6" height="6" fill="#20f0a0"/><text x="979" y="1095">Turing</text></g>
<g id="n-popper" class="nd"><rect x="1009.5" y="1091.5" width="7" height="7" fill="#20f0a0"/><text x="1013" y="1095">Karl Popper</text></g>
<g id="n-arendt" class="nd"><rect x="1110" y="1090" width="10" height="10" fill="#20f080"/><text x="1115" y="1095">Arendt</text></g>
<g id="n-lukacs" class="nd"><rect x="1280" y="1090" width="10" height="10" fill="#20f0a0"/><text x="1285" y="1095">Lukács</text></g>
<g id="n-hyppolite" class="nd"><rect x="1456" y="1091" width="8" height="8" fill="#20f0a0"/><text x="1460" y="1095">Hyppolite</text></g>
<g id="n-steinbeck" class="nd"><rect x="105.5" y="1134.5" width="9" height="9" fill="#20f050"/><text x="110" y="1139">Steinbeck</text></g>
<g id="n-sartre" class="nd"><rect x="700" y="1133" width="12" height="12" fill="#20f0b0"/><text x="706" y="1139">Sartre</text></g>
<g id="n-ayer" class="nd"><rect x="940.5" y="1135.5" width="7" height="7" fill="#20e040"/><text x="944" y="1139">Ayer</text></g>
<g id="n-carnap" class="nd"><rect x="972.5" y="1134.5" width="9" height="9" fill="#20f060"/><text x="977" y="1139">Carnap</text></g>
<g id="n-tarski" class="nd"><rect x="1008.5" y="1135.5" width="7" height="7" fill="#20e040"/><text x="1012" y="1139">Tarski</text></g>
<g id="n-merleauponty" class="nd"><rect x="1395.5" y="1133.5" width="11" height="11" fill="#20f0a0"/><text x="1401" y="1139">Merleau-Ponty</text></g>
<g id="n-beauvoir" class="nd"><rect x="1456" y="1135" width="8" height="8" fill="#20f0a0"/><text x="1460" y="1139">de Beauvoir</text></g>
<g id="n-genet" class="nd"><rect x="699.5" y="1156.5" width="7" height="7" fill="#20e040"/><text x="703" y="1160">Genet</text></g>
<g id="n-davidson" class="nd"><rect x="968.5" y="1156.5" width="7" height="7" fill="#20e040"/><text x="972" y="1160">Davidson</text></g>
<g id="n-quine" class="nd"><rect x="1006.5" y="1156.5" width="7" height="7" fill="#20e040"/><text x="1010" y="1160">Quine</text></g>
<g id="n-ricoeur" class="nd"><rect x="1358.5" y="1156.5" width="7" height="7" fill="#20e040"/><text x="1362" y="1160">Paul Ricoeur</text></g>
<g id="n-levinas" class="nd"><rect x="1395.5" y="1156.5" width="7" height="7" fill="#20e060"/><text x="1399" y="1160">Levinas</text></g>
<g id="n-derrida" class="nd"><rect x="1428.5" y="1156.5" width="7" height="7" fill="#20e060"/><text x="1432" y="1160">Derrida</text></g>
</g>
</svg>
